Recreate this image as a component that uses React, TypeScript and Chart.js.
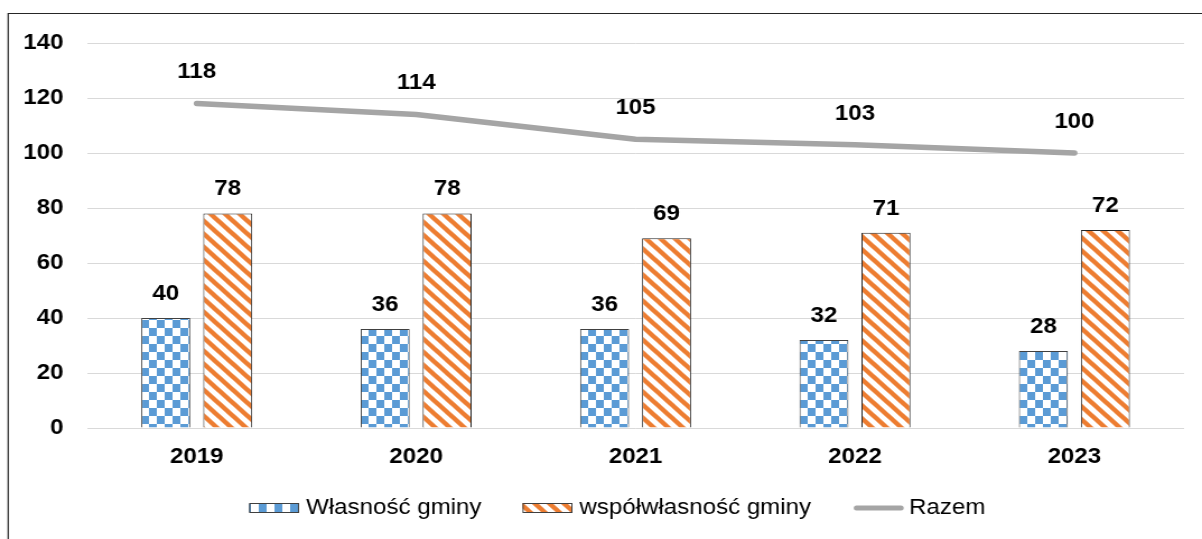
import React, { useEffect, useRef } from 'react';
import { Chart, registerables } from 'chart.js';

Chart.register(...registerables);

const years = ['2019', '2020', '2021', '2022', '2023'];
const wlasnosc = [40, 36, 36, 32, 28];
const wspolwlasnosc = [78, 78, 69, 71, 72];
const razem = [118, 114, 105, 103, 100];
const seriesNames = ['Własność gminy', 'współwłasność gminy', 'Razem'];
const yMin = 0;
const yMax = 140;
const yStep = 20;

const SX = 1.12;
const W = 1202;
const H = 539;
const IW = Math.round(W / SX);

const BLUE = '#5B9BD5';
const ORANGE = '#ED7D31';
const GRAY = '#A5A5A5';
const FONT = "'Liberation Sans', Arial, sans-serif";

function makeChecker(): CanvasPattern | string {
  const c = document.createElement('canvas');
  c.width = 14;
  c.height = 16;
  const g = c.getContext('2d');
  if (!g) return BLUE;
  g.fillStyle = '#ffffff';
  g.fillRect(0, 0, 14, 16);
  g.fillStyle = BLUE;
  g.fillRect(0, 0, 7, 8);
  g.fillRect(7, 8, 7, 8);
  const p = g.createPattern(c, 'repeat');
  return p || BLUE;
}

function makeStripes(): CanvasPattern | string {
  const T = 13;
  const c = document.createElement('canvas');
  c.width = T;
  c.height = T;
  const g = c.getContext('2d');
  if (!g) return ORANGE;
  g.fillStyle = '#ffffff';
  g.fillRect(0, 0, T, T);
  g.strokeStyle = ORANGE;
  g.lineWidth = 4.4;
  g.lineCap = 'square';
  for (const off of [-T, 0, T]) {
    g.beginPath();
    g.moveTo(off - 2, -2);
    g.lineTo(off + T + 2, T + 2);
    g.stroke();
  }
  const p = g.createPattern(c, 'repeat');
  return p || ORANGE;
}

export default function App() {
  const ref = useRef<HTMLCanvasElement | null>(null);

  useEffect(() => {
    document.body.style.margin = '0';
    const canvas = ref.current;
    if (!canvas) return;
    const checker = makeChecker();
    const stripes = makeStripes();

    const frame = {
      id: 'frame',
      beforeDraw(chart: any) {
        const ctx = chart.ctx;
        ctx.save();
        ctx.fillStyle = '#ffffff';
        ctx.fillRect(0, 0, chart.width, chart.height);
        ctx.strokeStyle = '#262626';
        ctx.lineWidth = 1.2;
        ctx.beginPath();
        ctx.moveTo(7.3, chart.height + 2);
        ctx.lineTo(7.3, 13.5);
        ctx.lineTo(chart.width + 2, 13.5);
        ctx.stroke();
        ctx.restore();
      },
    };

    const labels = {
      id: 'valueLabels',
      afterDatasetsDraw(chart: any) {
        const ctx = chart.ctx;
        ctx.save();
        ctx.font = `bold 21.5px ${FONT}`;
        ctx.fillStyle = '#000000';
        ctx.textAlign = 'center';
        ctx.textBaseline = 'middle';
        chart.data.datasets.forEach((ds: any, i: number) => {
          const meta = chart.getDatasetMeta(i);
          const off = ds.type === 'line' ? 31 : 24;
          meta.data.forEach((el: any, j: number) => {
            ctx.fillText(String(ds.data[j]), el.x, el.y - off);
          });
        });
        ctx.restore();
      },
    };

    const legend = {
      id: 'customLegend',
      afterDraw(chart: any) {
        const ctx = chart.ctx;
        ctx.save();
        ctx.font = `21.5px ${FONT}`;
        const boxW = 44.6;
        const boxH = 10;
        const gapT = 6.3;
        const gapI = 36.6;
        const widths = seriesNames.map((n) => ctx.measureText(n).width);
        const total = widths.reduce((a, w) => a + boxW + gapT + w, 0) + gapI * (seriesNames.length - 1);
        let x = 551 - total / 2;
        const cy = 508;
        const fills = [checker, stripes];
        seriesNames.forEach((n, i) => {
          if (i < 2) {
            ctx.fillStyle = fills[i] as any;
            ctx.fillRect(x, cy - boxH / 2, boxW, boxH);
            ctx.strokeStyle = '#404040';
            ctx.lineWidth = 1;
            ctx.strokeRect(x + 0.5, cy - boxH / 2 + 0.5, boxW - 1, boxH - 1);
          } else {
            ctx.strokeStyle = GRAY;
            ctx.lineWidth = 5;
            ctx.lineCap = 'round';
            ctx.beginPath();
            ctx.moveTo(x + 4, cy);
            ctx.lineTo(x + boxW - 1, cy);
            ctx.stroke();
          }
          ctx.fillStyle = '#000000';
          ctx.textAlign = 'left';
          ctx.textBaseline = 'middle';
          ctx.fillText(n, x + boxW + gapT, cy);
          x += boxW + gapT + widths[i] + gapI;
        });
        ctx.restore();
      },
    };

    const chart = new Chart(canvas, {
      type: 'bar',
      data: {
        labels: years,
        datasets: [
          {
            type: 'line',
            label: seriesNames[2],
            data: razem,
            borderColor: GRAY,
            backgroundColor: GRAY,
            borderWidth: 5.5,
            pointRadius: 0,
            pointHoverRadius: 0,
            borderCapStyle: 'round',
            borderJoinStyle: 'round',
            tension: 0,
            order: 0,
          } as any,
          {
            type: 'bar',
            label: seriesNames[0],
            data: wlasnosc,
            backgroundColor: checker as any,
            borderColor: '#404040',
            borderWidth: 1,
            categoryPercentage: 0.565,
            barPercentage: 0.79,
            order: 1,
          },
          {
            type: 'bar',
            label: seriesNames[1],
            data: wspolwlasnosc,
            backgroundColor: stripes as any,
            borderColor: '#262626',
            borderWidth: 1,
            categoryPercentage: 0.565,
            barPercentage: 0.79,
            order: 1,
          },
        ],
      },
      options: {
        animation: false,
        responsive: false,
        devicePixelRatio: 1,
        layout: { padding: { left: 0, right: 16, top: 43, bottom: 0 } },
        plugins: {
          legend: { display: false },
          tooltip: { enabled: false },
        },
        scales: {
          x: {
            grid: { display: false },
            border: { display: false },
            ticks: {
              color: '#000000',
              font: { family: FONT, size: 21.5, weight: 'bold' },
              padding: 8,
            },
            afterFit(scale: any) {
              scale.height = 111;
            },
          },
          y: {
            min: yMin,
            max: yMax,
            ticks: {
              stepSize: yStep,
              color: '#000000',
              font: { family: FONT, size: 21.5, weight: 'bold' },
              padding: 21,
            },
            grid: { color: '#D9D9D9', lineWidth: 1, drawTicks: false },
            border: { display: false },
            afterFit(scale: any) {
              scale.width = 77.7;
            },
          },
        },
      } as any,
      plugins: [frame, labels, legend],
    });
    canvas.style.width = W + 'px';
    canvas.style.height = H + 'px';

    return () => chart.destroy();
  }, []);

  return (
    <div style={{ position: 'fixed', left: 0, top: 0, width: W, height: H }}>
      <canvas ref={ref} width={IW} height={H} style={{ width: W + 'px', height: H + 'px', display: 'block' }} />
    </div>
  );
}
